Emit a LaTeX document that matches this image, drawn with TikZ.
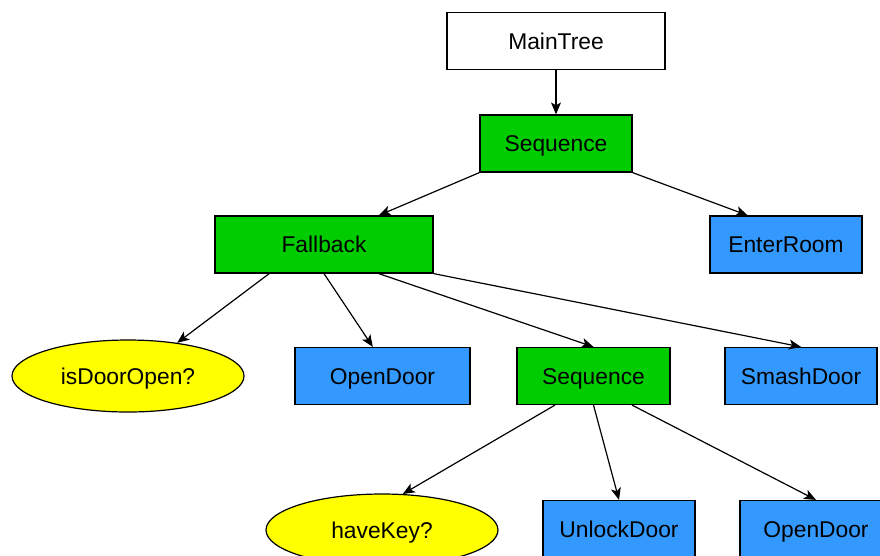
\documentclass[tikz,border=0pt]{standalone}
\usepackage{fontspec}
\setmainfont{Liberation Sans}
\usetikzlibrary{calc,arrows.meta,shapes.geometric}
\definecolor{seqgreen}{HTML}{00CC00}
\definecolor{actblue}{HTML}{3399FF}
\definecolor{condyellow}{HTML}{FFFF00}
\tikzset{
  treenode/.style={draw=black, line width=1.2pt, minimum height=57pt, inner sep=0pt,
    text height=16.3pt, text depth=0pt,
    font=\fontsize{22.8}{27}\selectfont},
  rootbox/.style={treenode, fill=white},
  ctrlbox/.style={treenode, fill=seqgreen},
  actbox/.style={treenode, fill=actblue},
  condoval/.style={treenode, ellipse, fill=condyellow, minimum width=232pt, minimum height=72pt},
  link/.style={line width=1.2pt, -{Stealth[length=12pt,width=10pt,inset=3pt]}}
}
\begin{document}
\begin{tikzpicture}[x=1pt,y=-1pt]
\useasboundingbox (0,0) rectangle (880,555);
% tree nodes
\node[rootbox, minimum width=218pt] (main) at (556,41) {MainTree};
\node[ctrlbox, minimum width=152pt] (seqA) at (556,143.5) {Sequence};
\node[ctrlbox, minimum width=218pt] (fb) at (324,244.5) {Fallback};
\node[actbox, minimum width=152pt] (enter) at (786,244.5) {EnterRoom};
\node[condoval] (isopen) at (128,376) {isDoorOpen?};
\node[actbox, minimum width=175pt] (openA) at (382.5,376) {OpenDoor};
\node[ctrlbox, minimum width=153pt] (seqB) at (593.5,376) {Sequence};
\node[actbox, minimum width=152pt] (smash) at (801,376) {SmashDoor};
\node[condoval] (key) at (382,530) {haveKey?};
\node[actbox, minimum width=152pt] (unlock) at (619,529) {UnlockDoor};
\node[actbox, minimum width=152pt] (openB) at (816,529) {OpenDoor};
% connectors
\draw[link] (main.south) -- (seqA.north);
\draw[link] (seqA.south west) -- ($(fb.north west)!0.75!(fb.north east)$);
\draw[link] (seqA.south east) -- ($(enter.north west)!0.25!(enter.north east)$);
\draw[link] ($(fb.south west)!0.25!(fb.south east)$) -- (isopen.34);
\draw[link] (fb.south) -- ($(openA.north west)!0.445!(openA.north east)$);
\draw[link] ($(fb.south west)!0.75!(fb.south east)$) -- (seqB.north);
\draw[link] (fb.south east) -- (smash.north);
\draw[link] ($(seqB.south west)!0.25!(seqB.south east)$) -- (key.60);
\draw[link] (seqB.south) -- (unlock.north);
\draw[link] ($(seqB.south west)!0.75!(seqB.south east)$) -- (openB.north);
\end{tikzpicture}
\end{document}
